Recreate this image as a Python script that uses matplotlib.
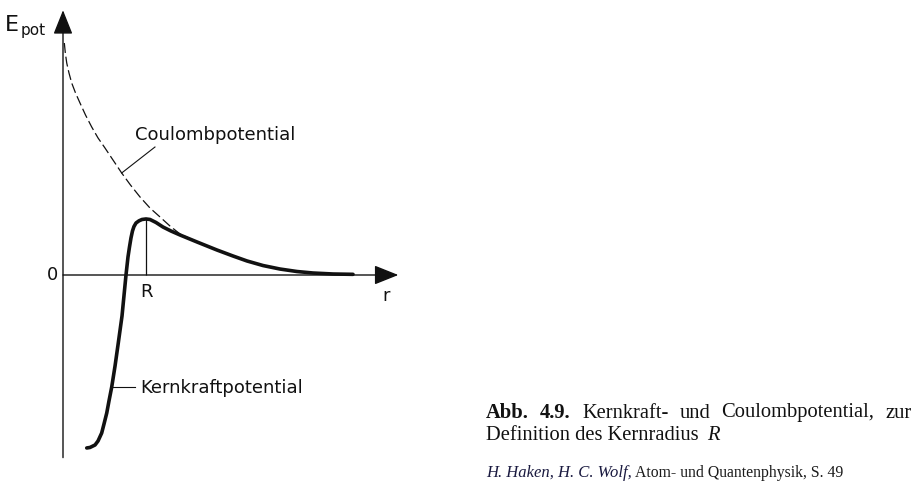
import matplotlib
matplotlib.use("Agg")
import matplotlib.pyplot as plt

# Werte in Einheiten des Kernradius R (r) bzw. willkuerlichen Energieeinheiten (E)
R = 1.0

coulomb_r = [0.016, 0.028, 0.045, 0.072, 0.105, 0.151, 0.205, 0.271, 0.346, 0.422,
             0.506, 0.602, 0.707, 0.813, 0.928, 1.048, 1.169, 1.289, 1.410,
             1.614, 1.855, 2.048, 2.217, 2.410, 2.614, 2.819, 3.012, 3.253, 3.494]
coulomb_E = [2.795, 2.675, 2.554, 2.434, 2.313, 2.193, 2.072, 1.928, 1.783, 1.651,
             1.530, 1.386, 1.229, 1.084, 0.940, 0.807, 0.699, 0.590, 0.494,
             0.398, 0.301, 0.229, 0.169, 0.114, 0.072, 0.042, 0.024, 0.012, 0.008]

kern_r = [0.286, 0.325, 0.386, 0.422, 0.466, 0.494, 0.527, 0.554, 0.587, 0.627,
          0.666, 0.711, 0.759, 0.783, 0.801, 0.819, 0.837, 0.855, 0.880, 0.916,
          0.952, 1.000, 1.048, 1.120, 1.205, 1.301, 1.410, 1.614, 1.855, 2.048,
          2.217, 2.410, 2.614, 2.819, 3.012, 3.253, 3.494]
kern_E = [-2.084, -2.078, -2.048, -2.000, -1.904, -1.795, -1.663, -1.518, -1.349, -1.096,
          -0.819, -0.494, 0.000, 0.217, 0.337, 0.446, 0.530, 0.584, 0.627, 0.653,
          0.669, 0.675, 0.669, 0.633, 0.578, 0.530, 0.482, 0.398, 0.301, 0.229,
          0.169, 0.114, 0.072, 0.042, 0.024, 0.012, 0.008]

caption_words = ["Abb.", "4.9.", "Kernkraft-", "und", "Coulombpotential,", "zur"]
caption_bold = [True, True, False, False, False, False]

fig = plt.figure(figsize=(9.17, 4.94), dpi=100)
ax = fig.add_axes([0, 0, 1, 1])
ax.set_xlim(-63 / 83, (917 - 63) / 83)
ax.set_ylim((275 - 494) / 83, 275 / 83)
ax.axis("off")

ink = "#111111"

# Achsen mit Pfeilen
arrow = dict(arrowstyle="-|>,head_length=15,head_width=6", mutation_scale=1,
             color=ink, lw=1.0, shrinkA=0, shrinkB=0)
ax.annotate("", xy=(0, 3.19), xytext=(0, -2.2), arrowprops=arrow)
ax.annotate("", xy=(4.04, 0), xytext=(0, 0), arrowprops=arrow)

# Kurven
ax.plot(coulomb_r, coulomb_E, color=ink, lw=0.9, linestyle=(0, (8, 3)))
ax.plot(kern_r, kern_E, color=ink, lw=2.6, solid_joinstyle="round", solid_capstyle="round")
ax.vlines(R, 0, max(kern_E), color=ink, lw=0.9)

# Beschriftungen
ax.text(-0.699, 3.01, "E", fontsize=16, color=ink, ha="left", va="center")
ax.text(-0.506, 2.94, "pot", fontsize=11, color=ink, ha="left", va="center")
ax.text(-0.06, 0, "0", fontsize=13, color=ink, ha="right", va="center")
ax.text(R, -0.21, "R", fontsize=13, color=ink, ha="center", va="center")
ax.text(3.89, -0.25, "r", fontsize=13, color=ink, ha="center", va="center")

ax.plot([0.707, 1.108], [1.229, 1.542], color=ink, lw=0.8)
ax.text(0.867, 1.687, "Coulombpotential", fontsize=13, color=ink, ha="left", va="center")
ax.plot([0.60, 0.867], [-1.349, -1.349], color=ink, lw=0.8)
ax.text(0.928, -1.361, "Kernkraftpotential", fontsize=13, color=ink, ha="left", va="center")

# Bildunterschrift
serif = "Liberation Serif"
W, H = 917, 494
def px(x, y):
    return x / W, 1 - y / H

# erste Zeile im Blocksatz zwischen x=486 und x=912
y1 = 413
renderer = fig.canvas.get_renderer()
texts = []
for w, b in zip(caption_words, caption_bold):
    t = fig.text(*px(0, y1), w, fontsize=14.8, family=serif,
                 weight="bold" if b else "normal", va="center", color=ink)
    texts.append(t)
widths = [t.get_window_extent(renderer).width for t in texts]
gap = (912 - 486 - sum(widths)) / (len(texts) - 1)
xpos = 486
for t, wd in zip(texts, widths):
    t.set_x(xpos / W)
    xpos += wd + gap

fig.text(*px(486, 435), "Definition des Kernradius", fontsize=14.8, family=serif,
         va="center", color=ink)
fig.text(*px(707, 435), "R", fontsize=14.8, family=serif, style="italic",
         va="center", color=ink)
fig.text(*px(486, 473), "H. Haken, H. C. Wolf,", fontsize=12, family=serif,
         style="italic", va="center", color="#1a1a40")
fig.text(*px(635, 473), "Atom- und Quantenphysik, S. 49", fontsize=11.3, family=serif,
         va="center", color="#1a1a1a")

fig.savefig("out.png", dpi=100, facecolor="white")
